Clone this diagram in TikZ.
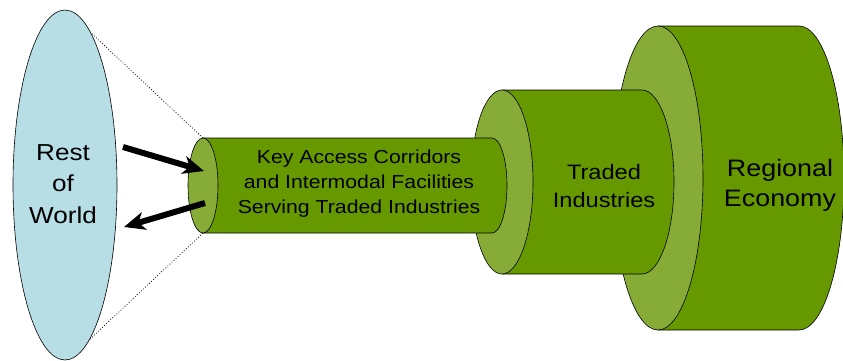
\documentclass[tikz,border=0pt]{standalone}
\usepackage{fontspec}
\setmainfont{Liberation Sans}[FakeStretch=1.13]
\usetikzlibrary{arrows.meta}
\definecolor{bodygreen}{HTML}{669900}
\definecolor{facegreen}{HTML}{86AC37}
\definecolor{worldblue}{HTML}{B7DDE5}
\begin{document}
\begin{tikzpicture}[x=1pt, y=-1pt, line width=0.6pt,
    body/.style = {draw, fill=bodygreen},
    face/.style = {draw, fill=facegreen},
    label/.style = {align=center, inner sep=0pt},
    flow/.style = {line width=6pt, -{Stealth[length=21pt, width=18pt, inset=6pt]}}]
    \useasboundingbox (0,0) rectangle (843,360);
    % regional economy
    \draw[body] (658,26) -- (799,26) arc[start angle=-90, end angle=90, x radius=45, y radius=152] -- (658,330) -- cycle;
    \draw[face] (658,178) ellipse[x radius=45, y radius=152];
    % traded industries
    \draw[body] (502,90) -- (642,90) arc[start angle=-90, end angle=90, x radius=32, y radius=92] -- (502,274) -- cycle;
    \draw[face] (502,182) ellipse[x radius=31, y radius=92];
    % corridors
    \draw[body] (203,138) -- (492,138) arc[start angle=-90, end angle=90, x radius=15, y radius=47.5] -- (203,233) -- cycle;
    \draw[face] (203,185.5) ellipse[x radius=15, y radius=47.5];
    % rest of world
    \draw[dotted, line width=0.8pt] (88,30) -- (203,138);
    \draw[dotted, line width=0.8pt] (88,341) -- (203,233);
    \draw[fill=worldblue] (65,185) ellipse[x radius=52, y radius=175];
    \node[label, font=\fontsize{23.1}{31.5}\selectfont] (world) at (63,184) {Rest\\of\\World};
    \node[label, font=\fontsize{18.8}{25}\selectfont] (corridors) at (359,184) {Key Access Corridors\\and Intermodal Facilities\\Serving Traded Industries};
    \node[label, font=\fontsize{20.9}{28}\selectfont] (traded) at (604,186) {Traded\\Industries};
    \node[label, font=\fontsize{23.8}{30}\selectfont] (regional) at (780,185) {Regional\\Economy};
    \coordinate (in1) at (123,147);
    \coordinate (in2) at (204,171);
    \coordinate (out1) at (205,203);
    \coordinate (out2) at (124,227);
    \draw[flow] (in1) -- (in2);
    \draw[flow] (out1) -- (out2);
\end{tikzpicture}
\end{document}
